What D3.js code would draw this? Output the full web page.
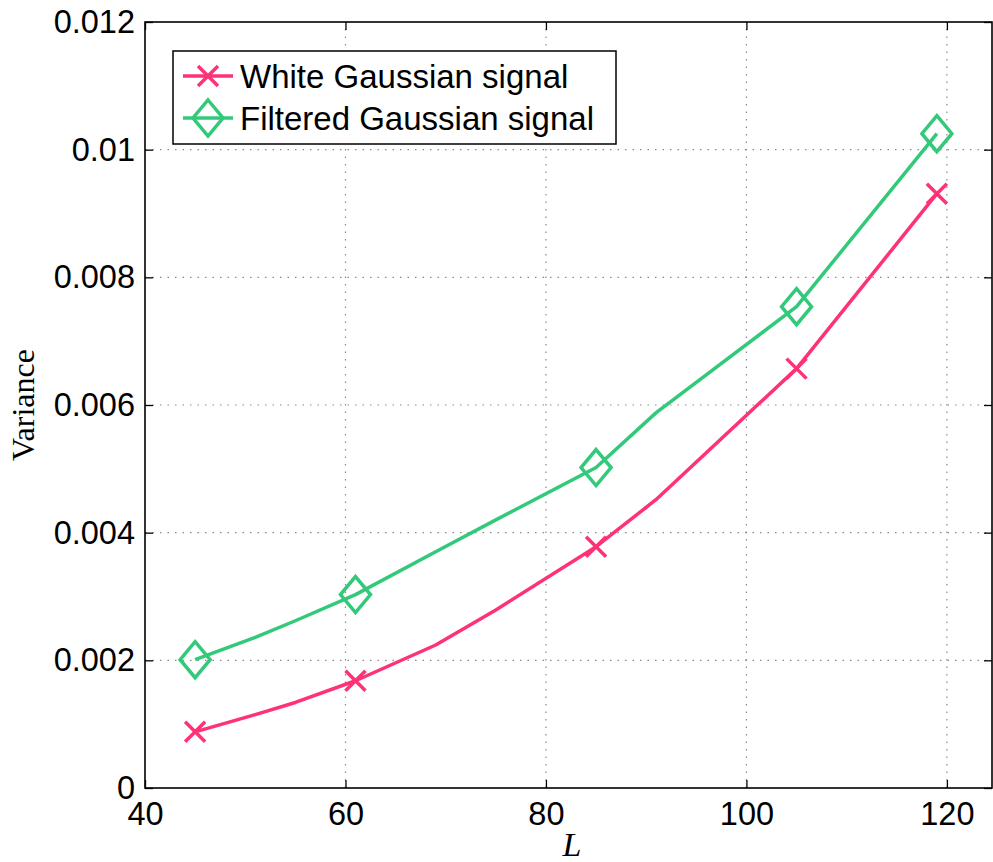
<!DOCTYPE html>
<html>
<head>
<meta charset="utf-8">
<script src="https://cdn.jsdelivr.net/npm/d3@7"></script>
<style>
    html, body { margin: 0; padding: 0; background: #fff; }
    svg { display: block; }
    .tick-label { font-family: "Liberation Sans", Arial, sans-serif; font-size: 32.5px; fill: #000; }
    .legend-text { font-family: "Liberation Sans", Arial, sans-serif; font-size: 33px; fill: #000; }
    .grid line { stroke: #8a8a8a; stroke-width: 1.2; stroke-dasharray: 1.5,6; }
</style>
</head>
<body>
<svg id="chart"></svg>
<script>
    // data
    const L = [45, 51, 55, 61, 69, 75, 85, 91, 105, 119];
    const whiteVar = [0.00088, 0.00115, 0.00134, 0.00168, 0.00224, 0.00279, 0.00378, 0.00452, 0.00657, 0.00931];
    const filteredVar = [0.00201, 0.00236, 0.00262, 0.00303, 0.00370, 0.00420, 0.00502, 0.00588, 0.00754, 0.01025];
    const markerL = [45, 61, 85, 105, 119];
    const xTicks = [40, 60, 80, 100, 120];
    const yTicks = [0, 0.002, 0.004, 0.006, 0.008, 0.01, 0.012];

    const width = 993, height = 862;
    const pink = "#fe3278", green = "#33c97a";

    const svg = d3.select("#chart")
        .attr("width", width)
        .attr("height", height);

    const x = d3.scaleLinear().domain([40, 124.5]).range([145, 992]);
    const y = d3.scaleLinear().domain([0, 0.012]).range([788, 22]);

    // grid
    const grid = svg.append("g").attr("class", "grid");
    grid.selectAll(".gx")
        .data(xTicks.slice(1))
        .enter().append("line")
        .attr("x1", d => x(d)).attr("x2", d => x(d))
        .attr("y1", y(0)).attr("y2", y(0.012));
    grid.selectAll(".gy")
        .data(yTicks.slice(1, -1))
        .enter().append("line")
        .attr("x1", x.range()[0]).attr("x2", x.range()[1])
        .attr("y1", d => y(d)).attr("y2", d => y(d));

    // axes (inward ticks on all four sides)
    const fmtY = d => d === 0 ? "0" : d3.format(".3~f")(d);
    svg.append("g")
        .attr("transform", `translate(0,${y(0)})`)
        .call(d3.axisBottom(x).tickValues(xTicks).tickSizeInner(-8).tickSizeOuter(0).tickPadding(14))
        .call(g => g.selectAll("text").attr("class", "tick-label").attr("dy", "0.71em"));
    svg.append("g")
        .attr("transform", `translate(0,${y(0.012)})`)
        .call(d3.axisTop(x).tickValues(xTicks).tickSizeInner(-8).tickSizeOuter(0).tickFormat(""));
    svg.append("g")
        .attr("transform", `translate(${x(40)},0)`)
        .call(d3.axisLeft(y).tickValues(yTicks).tickSizeInner(-8).tickSizeOuter(0).tickPadding(10).tickFormat(fmtY))
        .call(g => g.selectAll("text").attr("class", "tick-label"));
    svg.append("g")
        .attr("transform", `translate(${x.range()[1]},0)`)
        .call(d3.axisRight(y).tickValues(yTicks).tickSizeInner(-8).tickSizeOuter(0).tickFormat(""));

    svg.selectAll(".domain").remove();
    svg.selectAll(".tick line").attr("stroke", "#000").attr("stroke-width", 1.3);
    svg.selectAll(".tick text").attr("font-size", null).attr("font-family", null).attr("fill", "#000");

    // box
    svg.append("rect")
        .attr("x", x.range()[0]).attr("y", y(0.012))
        .attr("width", x.range()[1] - x.range()[0])
        .attr("height", y(0) - y(0.012))
        .attr("fill", "none").attr("stroke", "#000").attr("stroke-width", 1.6);

    // axis labels
    svg.append("text")
        .attr("x", 572).attr("y", 856)
        .attr("text-anchor", "middle")
        .style("font-family", "'Liberation Serif', 'DejaVu Serif', serif")
        .style("font-style", "italic")
        .style("font-size", "34px")
        .text("L");
    svg.append("text")
        .attr("transform", `translate(34,${(y(0) + y(0.012)) / 2}) rotate(-90)`)
        .attr("text-anchor", "middle")
        .style("font-family", "'Liberation Serif', 'DejaVu Serif', serif")
        .style("font-size", "32px")
        .text("Variance");

    // series
    const line = d3.line().x(d => x(d[0])).y(d => y(d[1]));
    const seriesW = L.map((l, i) => [l, whiteVar[i]]);
    const seriesF = L.map((l, i) => [l, filteredVar[i]]);

    function drawSeries(data, color, marker) {
        svg.append("path")
            .datum(data)
            .attr("d", line)
            .attr("fill", "none")
            .attr("stroke", color)
            .attr("stroke-width", 3.5)
            .attr("stroke-linejoin", "round");
        const pts = data.filter(d => markerL.includes(d[0]));
        svg.append("g").selectAll("path")
            .data(pts)
            .enter().append("path")
            .attr("transform", d => `translate(${x(d[0])},${y(d[1])})`)
            .attr("d", marker)
            .attr("fill", "none")
            .attr("stroke", color)
            .attr("stroke-width", 3.5);
    }
    const crossPath = "M-10,-10L10,10M-10,10L10,-10";
    const diamondPath = "M0,-18L15,0L0,18L-15,0Z";

    drawSeries(seriesW, pink, crossPath);
    drawSeries(seriesF, green, diamondPath);

    // legend
    const legend = svg.append("g");
    legend.append("rect")
        .attr("x", 173).attr("y", 51)
        .attr("width", 443).attr("height", 93)
        .attr("fill", "#fff").attr("stroke", "#000").attr("stroke-width", 1.5);
    const legendItems = [
        { label: "White Gaussian signal", color: pink, marker: crossPath, cy: 76 },
        { label: "Filtered Gaussian signal", color: green, marker: diamondPath, cy: 118 }
    ];
    legendItems.forEach(it => {
        legend.append("line")
            .attr("x1", 183).attr("x2", 233)
            .attr("y1", it.cy).attr("y2", it.cy)
            .attr("stroke", it.color).attr("stroke-width", 3.5);
        legend.append("path")
            .attr("transform", `translate(208,${it.cy})`)
            .attr("d", it.marker)
            .attr("fill", "none")
            .attr("stroke", it.color)
            .attr("stroke-width", 3.5);
        legend.append("text")
            .attr("class", "legend-text")
            .attr("x", 240).attr("y", it.cy + 12)
            .text(it.label);
    });
</script>
</body>
</html>
